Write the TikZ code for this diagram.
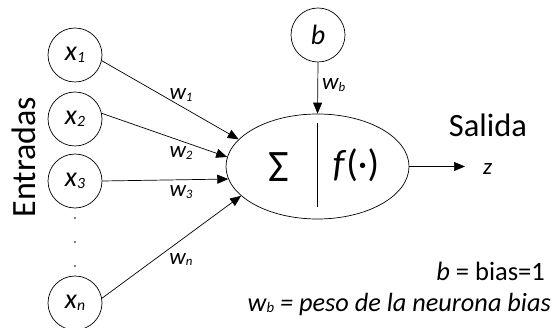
\documentclass[tikz,border=0pt]{standalone}
\usepackage{fontspec}
\setmainfont{Carlito}
\usetikzlibrary{shapes.geometric,arrows.meta}
\newcommand{\lowsub}[1]{\raisebox{-0.06em}{\scalebox{0.56}{#1}}}
\begin{document}
\begin{tikzpicture}[x=1pt,y=-1pt,
  inp/.style={draw,circle,minimum size=54pt,inner sep=0pt,line width=0.7pt,font=\fontsize{28}{30}\selectfont\itshape},
  conn/.style={line width=0.7pt,-{Triangle[length=11pt,width=9pt]}},
  wlab/.style={anchor=base,inner sep=0pt,font=\fontsize{23}{25}\selectfont\itshape},
  dotn/.style={circle,fill,inner sep=0pt,minimum size=1.8pt}]
\useasboundingbox (0,0) rectangle (553,328);
\node[inp] (x1) at (75,55) {x\lowsub{1}};
\node[inp] (x2) at (75,119) {x\lowsub{2}};
\node[inp] (x3) at (75,181) {x\lowsub{3}};
\node[inp] (xn) at (75,303) {x\lowsub{n}};
\node[inp] (b) at (318,35) {b};
\node[dotn] (d1) at (75,218) {};
\node[dotn] (d2) at (75,242) {};
\node[dotn] (d3) at (75,266) {};
\node[draw,ellipse,minimum width=183pt,minimum height=105pt,inner sep=0pt,line width=0.7pt] (neu) at (317.5,166.5) {};
\draw[line width=0.7pt] (317.5,123) -- (317.5,207);
\node[font=\fontsize{45}{47}\selectfont,inner sep=0pt] (sum) at (279,167.5) {Σ};
\node[font=\fontsize{38}{40}\selectfont,inner sep=0pt] (f) at (356,165) {\textit{f}(·)};
\node[rotate=90,font=\fontsize{34}{36}\selectfont,inner sep=0pt] (ent) at (24,157) {Entradas};
\draw[conn] (x1.-12.5) -- (neu.161.8);
\draw[conn] (x2.12.5) -- (neu.174.7);
\draw[conn] (x3.0) -- (neu.188.6);
\draw[conn] (xn.10) -- (neu.201);
\draw[conn] (b.south) -- (neu.north);
\coordinate (out) at (465,166.5);
\draw[conn] (neu.east) -- (out);
\node[wlab] (w1) at (181,100) {w\lowsub{1}};
\node[wlab] (w2) at (181,158) {w\lowsub{2}};
\node[wlab] (w3) at (181,197) {w\lowsub{3}};
\node[wlab] (wn) at (181,264) {w\lowsub{n}};
\node[wlab,anchor=base west] (wb) at (322,90) {w\lowsub{b}};
\node[wlab,anchor=base west] (z) at (483,175) {z};
\node[anchor=base,inner sep=0pt,font=\fontsize{32.5}{34}\selectfont] (sal) at (488,137) {Salida};
\node[anchor=base east,inner sep=0pt,font=\fontsize{26.5}{29}\selectfont] (bias) at (545,280) {\textit{b} = bias=1};
\node[anchor=base east,inner sep=0pt,font=\fontsize{26.3}{28}\selectfont\itshape] (peso) at (551,311) {w\lowsub{b} = peso de la neurona bias};
\end{tikzpicture}
\end{document}
